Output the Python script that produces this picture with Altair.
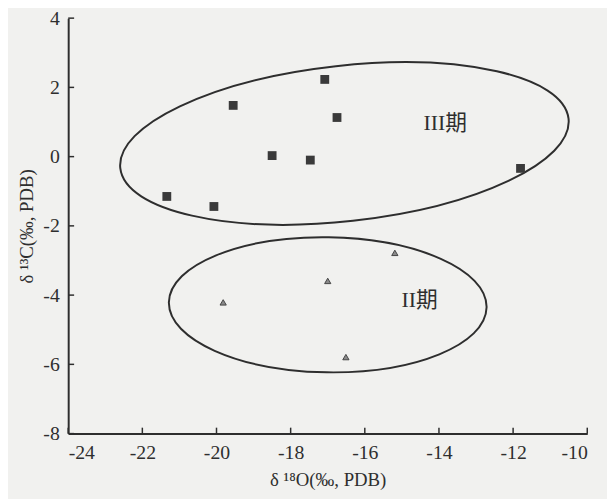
import altair as alt
import pandas as pd

# --- data ---
stage3_d18O = [-21.34, -20.07, -19.55, -18.50, -17.47, -17.08, -16.75, -11.80]
stage3_d13C = [-1.15, -1.44, 1.48, 0.03, -0.10, 2.23, 1.13, -0.34]
stage2_d18O = [-15.19, -17.00, -19.82, -16.51]
stage2_d13C = [-2.78, -3.59, -4.21, -5.79]
x_ticks = [-24, -22, -20, -18, -16, -14, -12, -10]
y_ticks = [4, 2, 0, -2, -4, -6, -8]
group_labels = ["III期", "II期"]
label_x = [-13.83, -14.52]
label_y = [0.97, -4.15]
ellipse_x = [-16.55, -17.0]
ellipse_y = [0.38, -4.28]

W, H = 526, 421
FONT = "Liberation Serif"
INK = "#2e2e2e"

xs = alt.Scale(domain=[-24, -10], nice=False, zero=False)
ys = alt.Scale(domain=[-8, 4], nice=False, zero=False)

sq = pd.DataFrame({"x": stage3_d18O, "y": stage3_d13C})
tr = pd.DataFrame({"x": stage2_d18O, "y": stage2_d13C})
lab = pd.DataFrame({"t": group_labels, "x": label_x, "y": label_y})
xt = pd.DataFrame({"x": x_ticks})
yt = pd.DataFrame({"y": y_ticks})

x_axis = alt.Axis(values=x_ticks, tickSize=0, labelFont=FONT, labelFontSize=20,
                  labelExpr="toString(datum.value)",
                  labelColor=INK, labelPadding=9, domainColor=INK, domainWidth=2,
                  grid=False, title="δ ¹⁸O(‰, PDB)", titleFont=FONT,
                  titleFontSize=19, titleFontWeight="normal", titleColor=INK,
                  titlePadding=9)
y_axis = alt.Axis(values=y_ticks, tickSize=0, labelFont=FONT, labelFontSize=20,
                  labelExpr="toString(datum.value)",
                  labelColor=INK, labelPadding=9, domainColor=INK, domainWidth=2,
                  grid=False, title="δ ¹³C(‰, PDB)", titleFont=FONT,
                  titleFontSize=19, titleFontWeight="normal", titleColor=INK,
                  titlePadding=6)

base_axes = alt.Chart(sq).mark_point(opacity=0).encode(
    x=alt.X("x:Q", scale=xs, axis=x_axis),
    y=alt.Y("y:Q", scale=ys, axis=y_axis),
)

squares = alt.Chart(sq).mark_point(shape="square", filled=True, color="#3a3a3a",
                                   size=80, opacity=1).encode(
    x=alt.X("x:Q", scale=xs), y=alt.Y("y:Q", scale=ys))

triangles = alt.Chart(tr).mark_point(shape="triangle-up", filled=True,
                                     fill="#8a8a8a", stroke="#444", strokeWidth=1,
                                     size=40, opacity=1).encode(
    x=alt.X("x:Q", scale=xs), y=alt.Y("y:Q", scale=ys))

ell3 = alt.Chart(pd.DataFrame({"x": [ellipse_x[0]], "y": [ellipse_y[0]]})).mark_point(
    shape="M -1 0 A 1 0.345 0 1 0 1 0 A 1 0.345 0 1 0 -1 0 Z",
    filled=False, stroke=INK, strokeWidth=2, opacity=1, size=208849, angle=353.7
).encode(x=alt.X("x:Q", scale=xs), y=alt.Y("y:Q", scale=ys))

ell2 = alt.Chart(pd.DataFrame({"x": [ellipse_x[1]], "y": [ellipse_y[1]]})).mark_point(
    shape="M -1 0 A 1 0.425 0 1 0 1 0 A 1 0.425 0 1 0 -1 0 Z",
    filled=False, stroke=INK, strokeWidth=2, opacity=1, size=103684, angle=0.9
).encode(x=alt.X("x:Q", scale=xs), y=alt.Y("y:Q", scale=ys))

labels = alt.Chart(lab).mark_text(font=f"{FONT}, Noto Sans CJK SC", fontSize=22,
                                  color=INK, align="center", baseline="middle").encode(
    x=alt.X("x:Q", scale=xs), y=alt.Y("y:Q", scale=ys), text="t:N")

xtick_marks = alt.Chart(xt).mark_rule(color=INK, strokeWidth=1.5).encode(
    x=alt.X("x:Q", scale=xs), y=alt.value(H), y2=alt.value(H - 6))
ytick_marks = alt.Chart(yt).mark_rule(color=INK, strokeWidth=1.5).encode(
    y=alt.Y("y:Q", scale=ys), x=alt.value(0), x2=alt.value(6))

chart = alt.layer(base_axes, ell3, ell2, squares, triangles, labels,
                  xtick_marks, ytick_marks).properties(
    width=W, height=H,
    autosize=alt.AutoSizeParams(type="none"),
    padding={"left": 61, "top": 7, "right": 20, "bottom": 63},
    background="#f1f1ef",
).configure_view(stroke=None)

chart.save("out.html", embed_options={"renderer": "svg", "actions": False})
